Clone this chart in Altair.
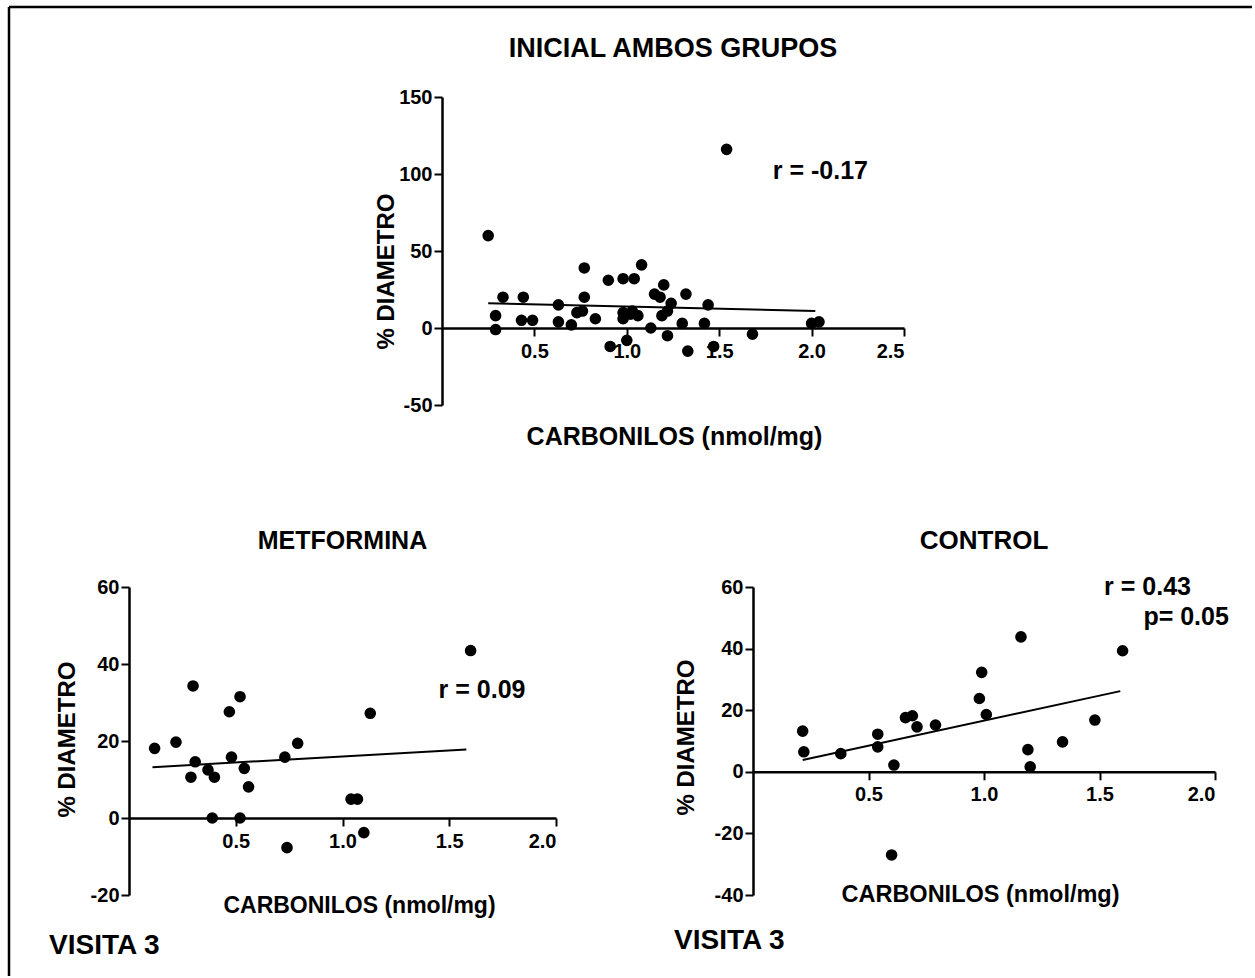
import altair as alt
import pandas as pd

FONT = "Liberation Sans"

# Baseline visit, both groups together
ini_x = [0.25, 0.33, 0.29, 0.29, 0.44, 0.43, 0.49, 0.63, 0.63, 0.70,
         0.77, 0.77, 0.73, 0.76, 0.83, 0.90, 0.91, 0.98, 1.04, 1.08,
         0.98, 0.98, 1.03, 1.06, 1.00, 1.13, 1.15, 1.20, 1.18, 1.24,
         1.22, 1.19, 1.22, 1.32, 1.44, 1.30, 1.42, 1.33, 1.47, 1.68,
         2.00, 2.04, 1.54, 1.02]
ini_y = [60, 20, 8, -1, 20, 5, 5, 15, 4, 2,
         39, 20, 10, 11, 6, 31, -12, 32, 32, 41,
         10, 6, 11, 8, -8, 0, 22, 28, 20, 16,
         11, 8, -5, 22, 15, 3, 3, -15, -12, -4,
         3, 4, 116, 9]
ini_fit_x = [0.25, 2.02]
ini_fit_y = [16.0, 11.0]

# Visit 3, metformin group
met_x = [0.12, 0.22, 0.30, 0.31, 0.29, 0.37, 0.40, 0.39, 0.47, 0.52,
         0.48, 0.54, 0.56, 0.52, 0.73, 0.79, 0.74, 1.60, 1.13, 1.04,
         1.07, 1.10]
met_y = [18.1, 19.7, 34.3, 14.6, 10.6, 12.5, 10.6, 0.0, 27.6, 31.5,
         15.8, 12.9, 8.1, 0.0, 15.8, 19.4, -7.7, 43.5, 27.2, 4.9,
         4.9, -3.8]
met_fit_x = [0.11, 1.58]
met_fit_y = [13.2, 17.8]

# Visit 3, control group
ctl_x = [0.215, 0.22, 0.38, 0.54, 0.54, 0.61, 0.60, 0.66, 0.69, 0.71,
         0.79, 1.16, 0.99, 0.98, 1.01, 1.60, 1.48, 1.34, 1.19, 1.20]
ctl_y = [13.2, 6.5, 5.9, 12.2, 8.1, 2.2, -27.0, 17.6, 18.2, 14.6,
         15.2, 43.8, 32.3, 23.8, 18.6, 39.3, 16.8, 9.7, 7.2, 1.6]
ctl_fit_x = [0.215, 1.59]
ctl_fit_y = [3.8, 26.2]

XTITLE = "CARBONILOS (nmol/mg)"
YTITLE = "% DIAMETRO"

PANEL_H = 308
# plain hyphen for negative tick labels
INT_LABEL = "datum.value < 0 ? '-' + abs(datum.value) : '' + datum.value"


def text_layer(txt, size, **enc):
    return alt.Chart(pd.DataFrame({"t": [txt]})).mark_text(
        align=enc.pop("align", "left"), baseline="middle", font=FONT,
        fontSize=size, fontWeight="bold", color="black"
    ).encode(text="t:N", **enc)


def panel(title, title_size, xs, ys, fx, fy, xdom, xticks, ydom, yticks,
          width, height, notes, title_y, xtitle_size, xtitle_y, xtitle_x,
          ytitle_x, ytitle_y):
    pts = pd.DataFrame({"x": xs, "y": ys})
    fit = pd.DataFrame({"x": fx, "y": fy})
    # the x axis runs along y = 0
    zero_off = -height * (0 - ydom[0]) / (ydom[1] - ydom[0])
    xs_ = alt.Scale(domain=xdom, nice=False, zero=False)
    ys_ = alt.Scale(domain=ydom, nice=False, zero=False)
    xaxis = alt.Axis(values=xticks, format=".1f", offset=zero_off,
                     title=XTITLE, titleY=xtitle_y, titleX=xtitle_x,
                     titleFontSize=xtitle_size,
                     titleBaseline="middle", titleAlign="center",
                     labelPadding=5)
    yaxis = alt.Axis(values=yticks, labelExpr=INT_LABEL, title=YTITLE,
                     titleX=ytitle_x, titleY=ytitle_y,
                     titleBaseline="middle", titleAlign="center",
                     labelPadding=2)
    dots = alt.Chart(pts).mark_circle(size=135, color="black", opacity=1).encode(
        x=alt.X("x:Q", scale=xs_, axis=xaxis),
        y=alt.Y("y:Q", scale=ys_, axis=yaxis),
    )
    line = alt.Chart(fit).mark_line(color="black", strokeWidth=2).encode(
        x="x:Q", y="y:Q"
    )
    layers = [line, dots]
    for nx, ny, txt in notes:
        layers.append(text_layer(txt, 25, x=alt.datum(nx), y=alt.datum(ny)))
    layers.append(text_layer(title, title_size, align="center",
                             x=alt.value(width / 2), y=alt.value(title_y)))
    return alt.layer(*layers).properties(width=width, height=height)


top = panel(
    "INICIAL AMBOS GRUPOS", 27, ini_x, ini_y, ini_fit_x, ini_fit_y,
    [0, 2.5], [0.5, 1.0, 1.5, 2.0, 2.5], [-50, 150], [-50, 0, 50, 100, 150],
    462, PANEL_H, [(1.79, 102, "r = -0.17")], -48, 25, 108, 232, -56, 174)

met = panel(
    "METFORMINA", 25, met_x, met_y, met_fit_x, met_fit_y,
    [0, 2.0], [0.5, 1.0, 1.5, 2.0], [-20, 60], [-20, 0, 20, 40, 60],
    427, PANEL_H, [(1.45, 33.2, "r = 0.09")], -46, 23, 87, 230, -62, 152)

ctl = panel(
    "CONTROL", 26, ctl_x, ctl_y, ctl_fit_x, ctl_fit_y,
    [0, 2.0], [0.5, 1.0, 1.5, 2.0], [-40, 60], [-40, -20, 0, 20, 40, 60],
    462, PANEL_H, [(1.52, 60, "r = 0.43"), (1.69, 50.3, "p= 0.05")], -46, 23.5, 123, 227, -67, 150)

met = alt.layer(met, text_layer("VISITA 3", 28, x=alt.value(-80), y=alt.value(359)))
ctl = alt.layer(ctl, text_layer("VISITA 3", 28, x=alt.value(-79), y=alt.value(354)))

# left spacer column that also carries the outer frame (left and top edges)
frame_row = pd.DataFrame({"k": [0]})
frame_top = alt.Chart(frame_row).mark_rule(color="black", strokeWidth=2.5).encode(
    x=alt.value(-120), x2=alt.value(1123), y=alt.value(-90))
frame_left = alt.Chart(frame_row).mark_rule(color="black", strokeWidth=2.5).encode(
    x=alt.value(-120), y=alt.value(-90), y2=alt.value(879))
spacer = alt.layer(frame_top, frame_left).properties(width=1, height=PANEL_H)

top_row = alt.hconcat(spacer, top, spacing=312, bounds="flush")
bottom_row = alt.hconcat(met, ctl, spacing=197, bounds="flush")

# with flush bounds the nested rows carry no height, so the row step is
# the panel height plus the gap between rows
chart = alt.vconcat(top_row, bottom_row, spacing=PANEL_H + 182, bounds="flush").properties(
    padding={"left": 7, "top": 5, "right": 0, "bottom": 0},
    background="white",
).configure_view(stroke=None).configure_axis(
    grid=False,
    domainColor="black", domainWidth=2.5,
    tickColor="black", tickWidth=2, tickSize=8,
    labelFont=FONT, labelFontSize=20, labelFontWeight="bold", labelColor="black",
    titleFont=FONT, titleFontSize=24, titleFontWeight="bold", titleColor="black",
)

chart.save("out.html", embed_options={"renderer": "svg", "actions": False})
